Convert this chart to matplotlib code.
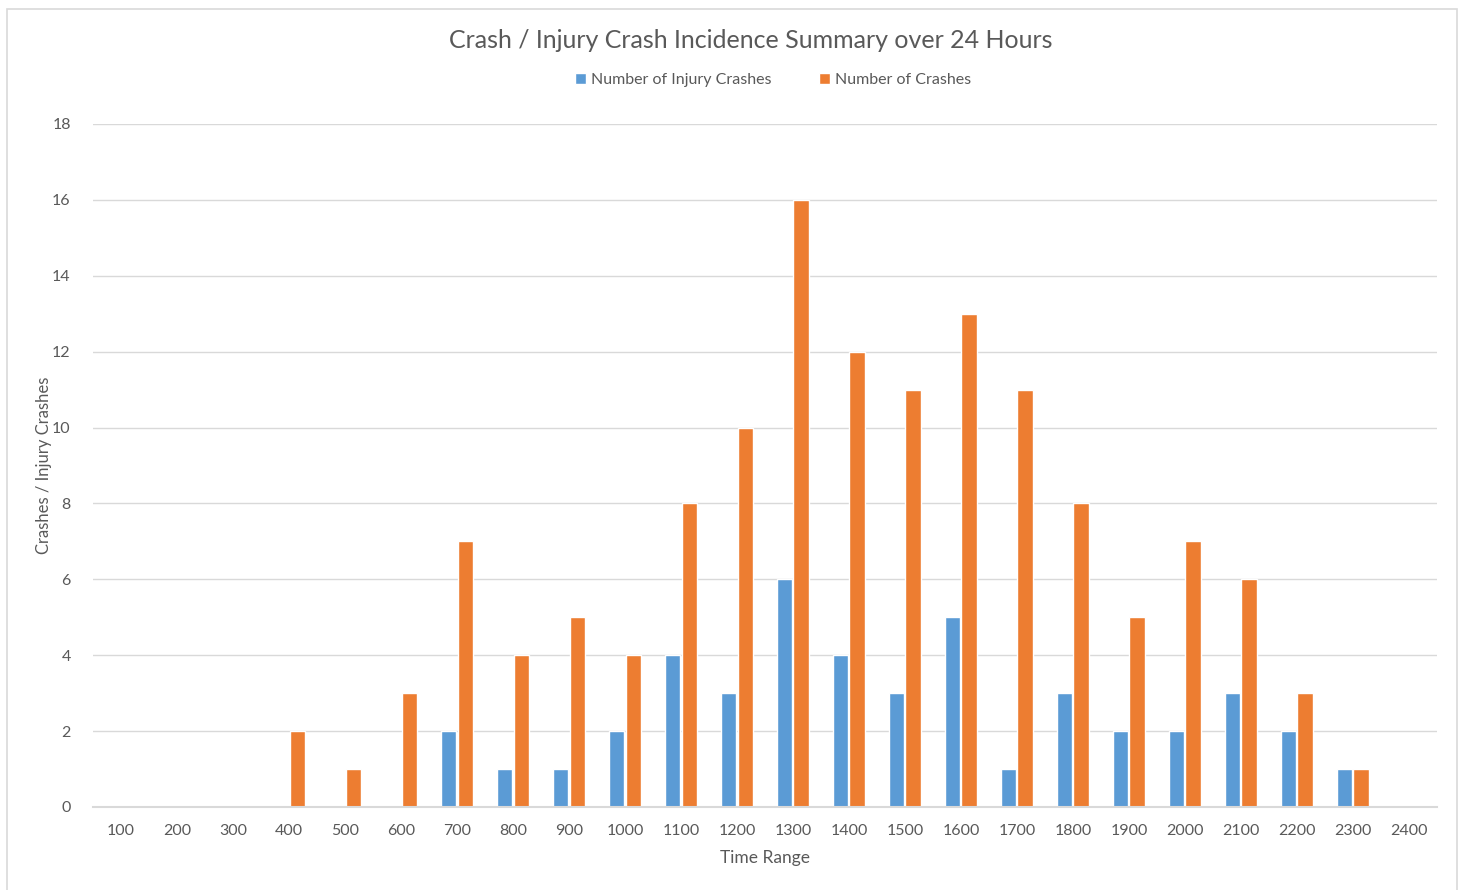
import matplotlib.pyplot as plt
import numpy as np

# hourly time ranges
time_labels = [str(h) for h in range(100, 2500, 100)]
injury_crashes = [0, 0, 0, 0, 0, 0, 2, 1, 1, 2, 4, 3, 6, 4, 3, 5, 1, 3, 2, 2, 3, 2, 1, 0]
all_crashes = [0, 0, 0, 2, 1, 3, 7, 4, 5, 4, 8, 10, 16, 12, 11, 13, 11, 8, 5, 7, 6, 3, 1, 0]

plt.rcParams['font.family'] = ['Lato', 'DejaVu Sans']
text_col = '#595959'
grid_col = '#d9d9d9'

fig = plt.figure(figsize=(14.64, 8.9), dpi=100)
ax = fig.add_axes([0.0635, 0.0933, 0.918, 0.7674])

x = np.arange(len(time_labels))
w = 0.28
ax.bar(x - w / 2 - 0.01, injury_crashes, w, color='#5b9bd5', edgecolor='white', linewidth=1,
       label='Number of Injury Crashes', zorder=3)
ax.bar(x + w / 2 + 0.01, all_crashes, w, color='#ed7d31', edgecolor='white', linewidth=1,
       label='Number of Crashes', zorder=3)

ax.set_xlim(-0.5, len(time_labels) - 0.5)
ax.set_ylim(0, 18)
ax.set_yticks(range(0, 19, 2))
ax.set_xticks(x)
ax.set_xticklabels(time_labels)
ax.yaxis.grid(True, color=grid_col, linewidth=1, zorder=0)
for s in ['top', 'right', 'left']:
    ax.spines[s].set_visible(False)
ax.spines['bottom'].set_color(grid_col)
ax.spines['bottom'].set_linewidth(1.5)
ax.spines['bottom'].set_zorder(4)
ax.tick_params(length=0, labelsize=11.5, labelcolor=text_col)
ax.tick_params(axis='x', pad=12)
ax.tick_params(axis='y', pad=16)

ax.set_xlabel('Time Range', fontsize=12.5, color=text_col, labelpad=9)
ax.set_ylabel('Crashes / Injury Crashes', fontsize=12, color=text_col, labelpad=0)

fig.suptitle('Crash / Injury Crash Incidence Summary over 24 Hours', fontsize=18,
             color=text_col, y=0.967, x=0.513)
fig.legend(loc='center', bbox_to_anchor=(0.528, 0.91), ncol=2, frameon=False,
           fontsize=11.5, labelcolor=text_col, handlelength=0.7, handleheight=0.7,
           handletextpad=0.3, columnspacing=3)

# light frame round the chart area
fig.patches.append(plt.Rectangle((0.005, -0.01), 0.99, 1.0, transform=fig.transFigure,
                                 fill=False, edgecolor=grid_col, linewidth=1.2))

plt.savefig('out.png', dpi=100)
